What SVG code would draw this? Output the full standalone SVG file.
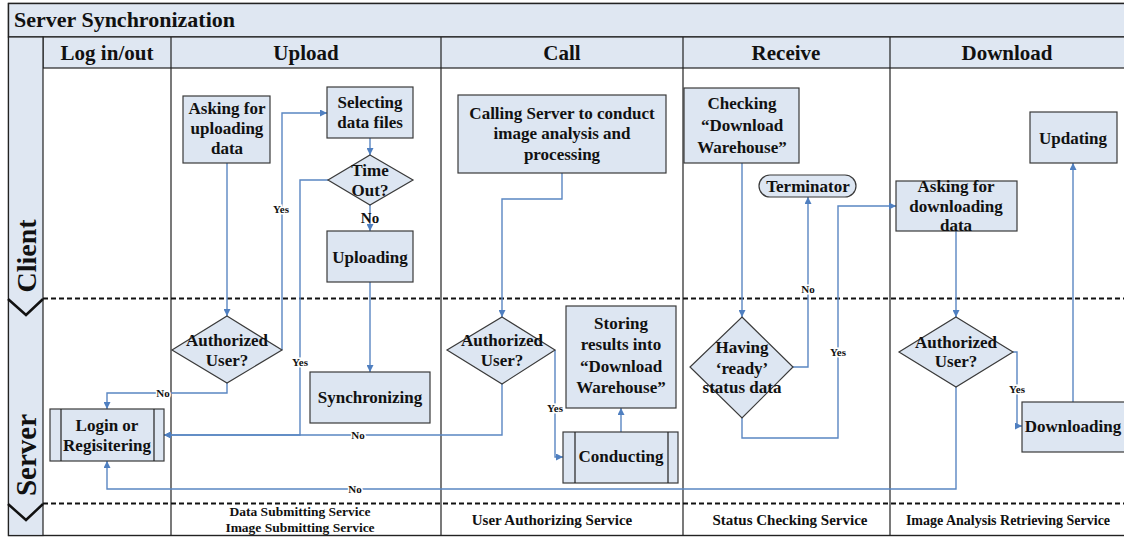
<svg xmlns="http://www.w3.org/2000/svg" width="1124" height="537" viewBox="0 0 1124 537">
<style>
text{font-family:"Liberation Serif","Times New Roman",serif;font-weight:bold;fill:#111;text-anchor:middle}
.t{font-size:17px}
.h{font-size:21px}
.lbl{font-size:11px;paint-order:stroke;stroke:#fff;stroke-width:3px}
.svc{font-size:15px}
.nd{fill:#dde6f2;stroke:#3a3a3a;stroke-width:1.2}
.ln{fill:none;stroke:#5a86c2;stroke-width:1.4}
.div{stroke:#222;stroke-width:1.2;fill:none}
.dash{stroke:#111;stroke-width:2.2;stroke-dasharray:5 3;fill:none}
.chev{stroke:#111;stroke-width:2.5;fill:none}
</style>
<defs>
<marker id="ar" viewBox="0 0 10 10" refX="10" refY="5" markerWidth="7" markerHeight="7" orient="auto" markerUnits="userSpaceOnUse">
<path d="M0,0 L10,5 L0,10 z" fill="#4f7fc0"/>
</marker>
</defs>
<rect x="0" y="0" width="1124" height="537" fill="#fff"/>
<g id="frame">
<rect x="8.5" y="3.5" width="1120" height="532" fill="#fff" stroke="#222" stroke-width="1.4"/>
<rect x="8.5" y="3.5" width="1120" height="33.5" fill="#dfe7f2" stroke="#222" stroke-width="1.4"/>
<rect x="43" y="37" width="1085" height="31" fill="#dfe7f2" stroke="#222" stroke-width="1.2"/>
<rect x="8.5" y="37" width="34.5" height="498.5" fill="#dfe7f2" stroke="#222" stroke-width="1.2"/>
<path class="div" d="M171,37V535 M441,37V535 M683,37V535 M890,37V535"/>
<path class="dash" d="M43,298.5H1124 M43,503.5H1124"/>
<polyline class="chev" points="8,299 26,315 43,299"/>
<polyline class="chev" points="8,504 26,520 43,504"/>
<text x="14" y="27" style="font-size:22px;text-anchor:start">Server Synchronization</text>
<text class="h" x="107" y="60">Log in/out</text>
<text class="h" x="306" y="60">Upload</text>
<text class="h" x="562" y="60">Call</text>
<text class="h" x="786" y="60">Receive</text>
<text class="h" x="1007" y="60">Download</text>
<text transform="translate(36,256) rotate(-90)" style="font-size:28px">Client</text>
<text transform="translate(36,455) rotate(-90)" style="font-size:29px">Server</text>
<text style="font-size:13.5px" x="300" y="516">Data Submitting Service</text>
<text style="font-size:13.5px" x="300" y="532">Image Submitting Service</text>
<text class="svc" x="552" y="525">User Authorizing Service</text>
<text class="svc" x="790" y="525">Status Checking Service</text>
<text style="font-size:14px" x="1008" y="525">Image Analysis Retrieving Service</text>
</g>
<g id="connectors">
<path class="ln" marker-end="url(#ar)" d="M227,163V316"/>
<path class="ln" marker-end="url(#ar)" d="M282,350V113H327"/>
<path class="ln" marker-end="url(#ar)" d="M370,138V155"/>
<path class="ln" marker-end="url(#ar)" d="M370,205V231"/>
<path class="ln" marker-end="url(#ar)" d="M328,180H300V435H164"/>
<path class="ln" marker-end="url(#ar)" d="M370,282V372"/>
<path class="ln" marker-end="url(#ar)" d="M227,383V393H107V409"/>
<path class="ln" marker-end="url(#ar)" d="M562,173V199H502V317"/>
<path class="ln" marker-end="url(#ar)" d="M502,384V435H164"/>
<path class="ln" marker-end="url(#ar)" d="M555,350V457H563"/>
<path class="ln" marker-end="url(#ar)" d="M621,432V408"/>
<path class="ln" marker-end="url(#ar)" d="M742,163V317"/>
<path class="ln" marker-end="url(#ar)" d="M793,367H808V197"/>
<path class="ln" marker-end="url(#ar)" d="M742,418V438H838V206H896"/>
<path class="ln" marker-end="url(#ar)" d="M956,231V317"/>
<path class="ln" marker-end="url(#ar)" d="M1013,352H1017V426H1022"/>
<path class="ln" marker-end="url(#ar)" d="M1073,402V163"/>
<path class="ln" marker-end="url(#ar)" d="M956,387V489H107V461"/>
<text class="lbl" x="281" y="213">Yes</text>
<text class="lbl" x="300" y="366">Yes</text>
<text style="font-size:15px" x="370" y="223">No</text>
<text class="lbl" x="163" y="397">No</text>
<text class="lbl" x="358" y="439">No</text>
<text class="lbl" x="355" y="493">No</text>
<text class="lbl" x="555" y="412">Yes</text>
<text class="lbl" x="808" y="293">No</text>
<text class="lbl" x="838" y="356">Yes</text>
<text class="lbl" x="1017" y="393">Yes</text>
</g>
<g id="asking-upload">
<rect class="nd" x="183" y="96" width="87" height="67"/>
<text class="t" x="227" y="114">Asking for</text>
<text class="t" x="227" y="134">uploading</text>
<text class="t" x="227" y="154">data</text>
</g>
<g id="selecting">
<rect class="nd" x="327" y="87" width="86" height="51"/>
<text class="t" x="370" y="108">Selecting</text>
<text class="t" x="370" y="128">data files</text>
</g>
<g id="timeout">
<polygon class="nd" points="370,155 413,180 370,205 328,180"/>
<text class="t" x="370" y="176">Time</text>
<text class="t" x="370" y="196">Out?</text>
</g>
<g id="uploading">
<rect class="nd" x="327" y="231" width="86" height="51"/>
<text class="t" x="370" y="263">Uploading</text>
</g>
<g id="auth-upload">
<polygon class="nd" points="227,316 282,350 227,383 172,350"/>
<text class="t" x="227" y="346">Authorized</text>
<text class="t" x="227" y="366">User?</text>
</g>
<g id="login">
<rect class="nd" x="50" y="409" width="114" height="52"/>
<path class="div" d="M61,409V461 M154,409V461"/>
<text class="t" x="107" y="431">Login or</text>
<text class="t" x="107" y="451">Regisitering</text>
</g>
<g id="synchronizing">
<rect class="nd" x="310" y="372" width="120" height="51"/>
<text class="t" x="370" y="403">Synchronizing</text>
</g>
<g id="calling">
<rect class="nd" x="458" y="95" width="208" height="78"/>
<text class="t" x="562" y="119">Calling Server to conduct</text>
<text class="t" x="562" y="139">image analysis and</text>
<text class="t" x="562" y="160">processing</text>
</g>
<g id="auth-call">
<polygon class="nd" points="502,317 555,350 502,384 447,350"/>
<text class="t" x="502" y="346">Authorized</text>
<text class="t" x="502" y="366">User?</text>
</g>
<g id="storing">
<rect class="nd" x="566" y="306" width="110" height="102"/>
<text class="t" x="621" y="329">Storing</text>
<text class="t" x="621" y="350">results into</text>
<text class="t" x="621" y="372">“Download</text>
<text class="t" x="621" y="393">Warehouse”</text>
</g>
<g id="conducting">
<rect class="nd" x="563" y="432" width="115" height="51"/>
<path class="div" d="M575,432V483 M668,432V483"/>
<text class="t" x="621" y="462">Conducting</text>
</g>
<g id="checking">
<rect class="nd" x="684" y="88" width="115" height="75"/>
<text class="t" x="742" y="109">Checking</text>
<text class="t" x="742" y="131">“Download</text>
<text class="t" x="742" y="153">Warehouse”</text>
</g>
<g id="terminator">
<rect class="nd" x="759" y="175" width="97" height="22" rx="11" ry="11"/>
<text class="t" x="808" y="192">Terminator</text>
</g>
<g id="having">
<polygon class="nd" points="742,317 793,367 742,418 690,367"/>
<text class="t" x="742" y="353">Having</text>
<text class="t" x="742" y="374">‘ready’</text>
<text class="t" x="742" y="393">status data</text>
</g>
<g id="updating">
<rect class="nd" x="1030" y="112" width="87" height="51"/>
<text class="t" x="1073" y="144">Updating</text>
</g>
<g id="asking-download">
<rect class="nd" x="896" y="181" width="121" height="50"/>
<text class="t" x="956" y="192">Asking for</text>
<text class="t" x="956" y="212">downloading</text>
<text class="t" x="956" y="231">data</text>
</g>
<g id="auth-download">
<polygon class="nd" points="956,317 1013,352 956,387 899,352"/>
<text class="t" x="956" y="348">Authorized</text>
<text class="t" x="956" y="367">User?</text>
</g>
<g id="downloading">
<rect class="nd" x="1022" y="402" width="106" height="50"/>
<text class="t" x="1073" y="432">Downloading</text>
</g>
</svg>
